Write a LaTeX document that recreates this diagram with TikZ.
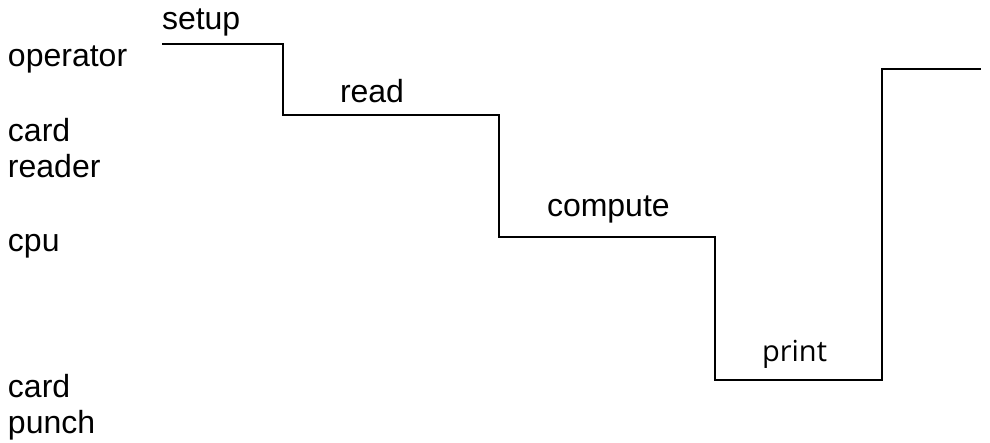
\documentclass[tikz,border=0pt]{standalone}
\usepackage{fontspec}
\setmainfont{Liberation Sans}
\newfontfamily\printfont{Open Sans}
\begin{document}
\begin{tikzpicture}[x=1pt,y=-1pt,
  lbl/.style={inner sep=0pt,outer sep=0pt,anchor=base west,
              font=\fontsize{32}{36}\selectfont},
  plbl/.style={inner sep=0pt,outer sep=0pt,anchor=base west,
               font=\printfont\fontsize{29}{34}\selectfont},
  track/.style={draw=black,line width=1.6pt,line join=miter}]
\useasboundingbox (0,0) rectangle (990,443);

% resource names down the left margin
\node[lbl] (operator) at (8,67) {operator};
\node[lbl] (card1)    at (8,142) {card};
\node[lbl] (reader)   at (8,178) {reader};
\node[lbl] (cpu)      at (8,252) {cpu};
\node[lbl] (card2)    at (8,397) {card};
\node[lbl] (punch)    at (8,433) {punch};

% corners of the stepped timeline
\coordinate (s0) at (162,44);
\coordinate (s1) at (283,44);
\coordinate (s2) at (283,115);
\coordinate (s3) at (499,115);
\coordinate (s4) at (499,237);
\coordinate (s5) at (715,237);
\coordinate (s6) at (715,380);
\coordinate (s7) at (882,380);
\coordinate (s8) at (882,69);
\coordinate (s9) at (981,69);

\draw[track] (s0) -- (s1) -- (s2) -- (s3) -- (s4) -- (s5) -- (s6) -- (s7) -- (s8) -- (s9);

% phase labels above each step
\node[lbl]  (setup)   at (162,30)  {setup};
\node[lbl]  (read)    at (340,103) {read};
\node[lbl]  (compute) at (547,217) {compute};
\node[plbl] (print)   at (762,362) {print};
\end{tikzpicture}
\end{document}
